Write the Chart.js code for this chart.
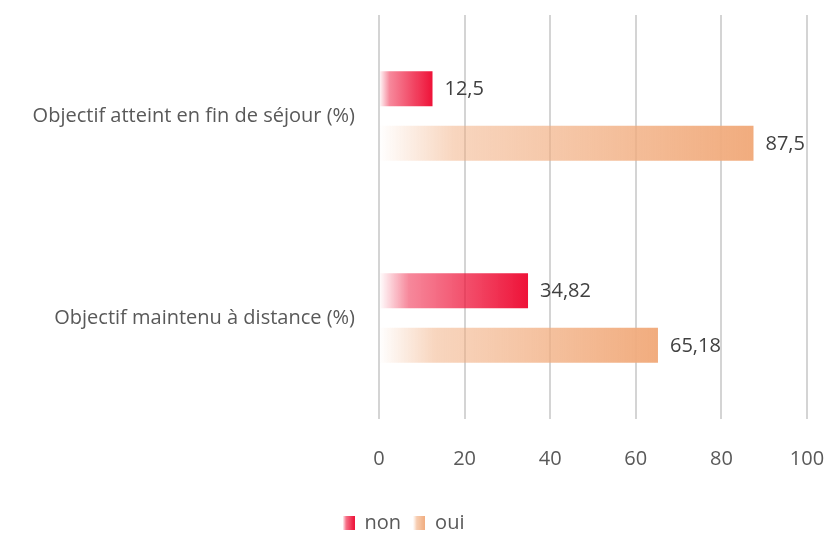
<!DOCTYPE html>
<html>
<head>
<meta charset="utf-8">
<script src="https://cdn.jsdelivr.net/npm/chart.js@4/dist/chart.umd.min.js"></script>
<style>
  html, body { margin: 0; padding: 0; background: #fff; }
  #wrap { width: 829px; height: 535px; }
</style>
</head>
<body>
<div id="wrap"><canvas id="chart"></canvas></div>
<script>
// données
const categories = ['Objectif atteint en fin de séjour (%)', 'Objectif maintenu à distance (%)'];
const nonValues = [12.5, 34.82];
const ouiValues = [87.5, 65.18];
const xTicks = [0, 20, 40, 60, 80, 100];

const textColor = '#595959';
const fontFamily = '"Open Sans", "Liberation Sans", sans-serif';

// dégradé horizontal, du blanc vers la couleur pleine, sur la longueur de la barre
function barGradient(ctx, rgb) {
    const chart = ctx.chart;
    const xScale = chart.scales.x;
    const solid = 'rgb(' + rgb + ')';
    if (!xScale || typeof ctx.raw !== 'number') return solid;
    const x0 = xScale.getPixelForValue(0);
    const x1 = xScale.getPixelForValue(ctx.raw);
    if (!isFinite(x0) || !isFinite(x1) || x1 === x0) return solid;
    const g = chart.ctx.createLinearGradient(x0, 0, x1, 0);
    g.addColorStop(0, 'rgba(' + rgb + ',0)');
    g.addColorStop(0.2, 'rgba(' + rgb + ',0.5)');
    g.addColorStop(1, 'rgba(' + rgb + ',1)');
    return g;
}

function legendIcon(rgb) {
    const c = document.createElement('canvas');
    c.width = 12; c.height = 14;
    const x = c.getContext('2d');
    const g = x.createLinearGradient(0, 0, 12, 0);
    g.addColorStop(0, 'rgba(' + rgb + ',0)');
    g.addColorStop(0.3, 'rgba(' + rgb + ',0.6)');
    g.addColorStop(1, 'rgba(' + rgb + ',1)');
    x.fillStyle = g;
    x.fillRect(0, 0, 12, 14);
    return c;
}

const nonRgb = '238,18,56';
const ouiRgb = '241,172,126';

// étiquettes de valeur à droite des barres
const valueLabels = {
    id: 'valueLabels',
    afterDatasetsDraw(chart) {
        const ctx = chart.ctx;
        ctx.save();
        ctx.font = '20px ' + fontFamily;
        ctx.fillStyle = '#404040';
        ctx.textAlign = 'left';
        ctx.textBaseline = 'middle';
        chart.data.datasets.forEach((ds, i) => {
            chart.getDatasetMeta(i).data.forEach((bar, j) => {
                const txt = String(ds.data[j]).replace('.', ',');
                ctx.fillText(txt, bar.x + 12, bar.y + 1);
            });
        });
        ctx.restore();
    }
};

new Chart(document.getElementById('chart'), {
    type: 'bar',
    data: {
        labels: categories,
        datasets: [{
            label: 'non',
            data: nonValues,
            backgroundColor: c => barGradient(c, nonRgb),
            pointStyle: legendIcon(nonRgb),
            categoryPercentage: 0.54,
            barPercentage: 0.64
        }, {
            label: 'oui',
            data: ouiValues,
            backgroundColor: c => barGradient(c, ouiRgb),
            pointStyle: legendIcon(ouiRgb),
            categoryPercentage: 0.54,
            barPercentage: 0.64
        }]
    },
    options: {
        indexAxis: 'y',
        responsive: true,
        maintainAspectRatio: false,
        animation: false,
        layout: { padding: { top: 15, right: 22, left: 0, bottom: -8 } },
        scales: {
            x: {
                min: 0,
                max: 100,
                afterBuildTicks: s => { s.ticks = xTicks.map(v => ({ value: v })); },
                grid: { color: '#d4d4d4', lineWidth: 2, drawTicks: false },
                border: { display: false },
                ticks: { color: textColor, font: { size: 20, family: fontFamily }, padding: 28 },
                afterFit: s => { s.height = 82; s.paddingLeft = 0; s.paddingRight = 0; }
            },
            y: {
                grid: { display: false },
                border: { display: false },
                ticks: { color: textColor, font: { size: 20, family: fontFamily }, padding: 16 },
                afterFit: s => { s.width = 379; s.paddingTop = 0; s.paddingBottom = 0; }
            }
        },
        plugins: {
            legend: {
                position: 'bottom',
                labels: {
                    usePointStyle: true,
                    color: textColor,
                    font: { size: 20, family: fontFamily },
                    padding: 12,
                    boxWidth: 12
                }
            },
            tooltip: { enabled: false }
        }
    },
    plugins: [valueLabels]
});
</script>
</body>
</html>
